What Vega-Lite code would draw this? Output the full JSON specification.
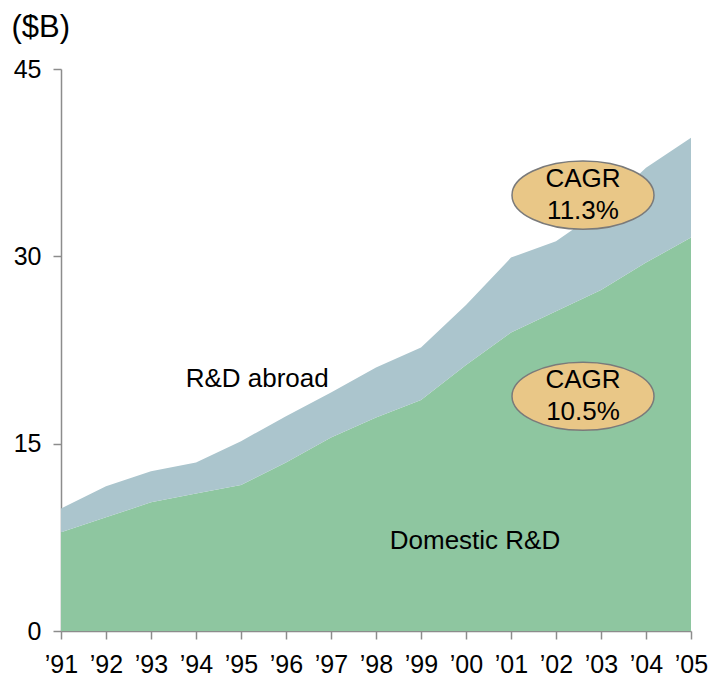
{
  "$schema": "https://vega.github.io/schema/vega-lite/v6.json",
  "width": 630,
  "height": 562,
  "autosize": {"type": "none"},
  "padding": {"left": 61, "top": 69, "right": 17, "bottom": 50},
  "background": "white",
  "config": {
    "view": {"stroke": null},
    "font": "Liberation Sans",
    "axis": {"grid": false, "domainColor": "#8c8c8c", "tickColor": "#8c8c8c", "domainWidth": 1.5, "tickWidth": 1.5, "labelColor": "#000000", "labelFont": "Liberation Sans", "labelFontSize": 25, "tickSize": 8}
  },
  "layer": [
    {
      "data": {"values": [
        {"year": 1991, "series": "Domestic R&D", "value": 7.9},
        {"year": 1992, "series": "Domestic R&D", "value": 9.1},
        {"year": 1993, "series": "Domestic R&D", "value": 10.3},
        {"year": 1994, "series": "Domestic R&D", "value": 11.0},
        {"year": 1995, "series": "Domestic R&D", "value": 11.7},
        {"year": 1996, "series": "Domestic R&D", "value": 13.5},
        {"year": 1997, "series": "Domestic R&D", "value": 15.5},
        {"year": 1998, "series": "Domestic R&D", "value": 17.1},
        {"year": 1999, "series": "Domestic R&D", "value": 18.5},
        {"year": 2000, "series": "Domestic R&D", "value": 21.3},
        {"year": 2001, "series": "Domestic R&D", "value": 23.9},
        {"year": 2002, "series": "Domestic R&D", "value": 25.6},
        {"year": 2003, "series": "Domestic R&D", "value": 27.3},
        {"year": 2004, "series": "Domestic R&D", "value": 29.5},
        {"year": 2005, "series": "Domestic R&D", "value": 31.5},
        {"year": 1991, "series": "R&D abroad", "value": 1.9},
        {"year": 1992, "series": "R&D abroad", "value": 2.5},
        {"year": 1993, "series": "R&D abroad", "value": 2.5},
        {"year": 1994, "series": "R&D abroad", "value": 2.5},
        {"year": 1995, "series": "R&D abroad", "value": 3.5},
        {"year": 1996, "series": "R&D abroad", "value": 3.7},
        {"year": 1997, "series": "R&D abroad", "value": 3.6},
        {"year": 1998, "series": "R&D abroad", "value": 4.0},
        {"year": 1999, "series": "R&D abroad", "value": 4.2},
        {"year": 2000, "series": "R&D abroad", "value": 4.8},
        {"year": 2001, "series": "R&D abroad", "value": 6.0},
        {"year": 2002, "series": "R&D abroad", "value": 5.6},
        {"year": 2003, "series": "R&D abroad", "value": 6.4},
        {"year": 2004, "series": "R&D abroad", "value": 7.6},
        {"year": 2005, "series": "R&D abroad", "value": 8.0}
      ]},
      "mark": {"type": "area", "opacity": 1},
      "encoding": {
        "x": {"field": "year", "type": "quantitative", "scale": {"domain": [1991, 2005], "nice": false, "zero": false},
              "axis": {"title": null, "values": [1991,1992,1993,1994,1995,1996,1997,1998,1999,2000,2001,2002,2003,2004,2005], "format": "d", "labelExpr": "'’' + substring(datum.label, 2)", "labelPadding": 13, "labelFlush": false}},
        "y": {"field": "value", "type": "quantitative", "stack": "zero", "scale": {"domain": [0, 45], "nice": false},
              "axis": {"values": [0, 15, 30, 45], "labelPadding": 12, "title": "($B)", "titleAngle": 0, "titleAlign": "left", "titleBaseline": "middle", "titleX": -50, "titleY": -42, "titleFont": "Liberation Sans", "titleFontSize": 31, "titleFontWeight": "normal", "titleColor": "#000000"}},
        "color": {"field": "series", "type": "nominal", "scale": {"domain": ["Domestic R&D", "R&D abroad"], "range": ["#8ec6a0", "#abc5cd"]}, "legend": null},
        "order": {"field": "series", "sort": "ascending"}
      }
    },
    {
      "data": {"values": [
        {"year": 1995.36, "y": 20.2, "label": "R&D abroad"},
        {"year": 2000.2, "y": 7.2, "label": "Domestic R&D"}
      ]},
      "mark": {"type": "text", "fontSize": 26, "color": "#000000", "align": "center", "baseline": "middle"},
      "encoding": {
        "x": {"field": "year", "type": "quantitative"},
        "y": {"field": "y", "type": "quantitative"},
        "text": {"field": "label"}
      }
    },
    {
      "data": {"values": [
        {"year": 2002.6, "y": 34.9, "label": ["CAGR", "11.3%"]},
        {"year": 2002.6, "y": 18.8, "label": ["CAGR", "10.5%"]}
      ]},
      "layer": [
        {
          "mark": {"type": "point", "filled": true, "fill": "#e9c787", "stroke": "#7a7a7a", "strokeWidth": 1.5, "opacity": 1, "size": 20164, "shape": "M -1 0 A 1 0.48 0 1 1 1 0 A 1 0.48 0 1 1 -1 0 Z"},
          "encoding": {
            "x": {"field": "year", "type": "quantitative"},
            "y": {"field": "y", "type": "quantitative"}
          }
        },
        {
          "mark": {"type": "text", "fontSize": 26, "color": "#000000", "align": "center", "baseline": "middle", "lineHeight": 32, "dy": -16},
          "encoding": {
            "x": {"field": "year", "type": "quantitative"},
            "y": {"field": "y", "type": "quantitative"},
            "text": {"field": "label"}
          }
        }
      ]
    }
  ]
}
